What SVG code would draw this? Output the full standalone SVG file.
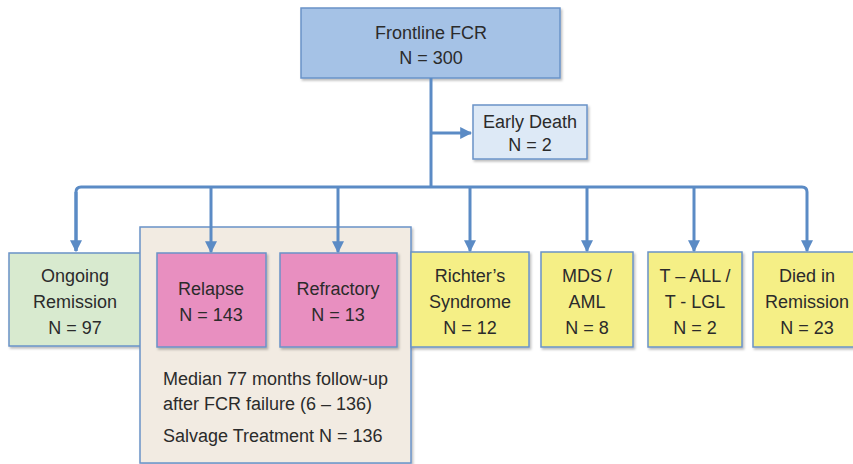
<svg xmlns="http://www.w3.org/2000/svg" width="853" height="464" viewBox="0 0 853 464">
<defs>
<style>
text{font-family:"Liberation Sans",Arial,sans-serif;fill:#2b2b2b;text-anchor:middle;font-size:18px}
.box{stroke:#6a93c8;stroke-width:1.5}
.conn{fill:none;stroke:#5b8bc5;stroke-width:3}
.blue{fill:#a5c2e6}
.lblue{fill:#dde9f6}
.green{fill:#d8eacf}
.pink{fill:#e88fc0}
.yellow{fill:#f5ef86}
.tan{fill:#f2ebe2}
.left{text-anchor:start}
</style>
<marker id="ah" viewBox="0 0 10 10" refX="9" refY="5" markerWidth="4" markerHeight="4" orient="auto" markerUnits="strokeWidth">
<path d="M0,0 L10,5 L0,10 z" fill="#5b8bc5"/>
</marker>
<filter id="sh" x="-10%" y="-10%" width="130%" height="130%">
<feDropShadow dx="1.5" dy="2" stdDeviation="1.2" flood-color="#000" flood-opacity="0.25"/>
</filter>
</defs>
<g id="frontline">
<rect class="box blue" x="301" y="8" width="259" height="70" filter="url(#sh)"/>
<text x="431" y="39" font-size="19">Frontline FCR</text>
<text x="431" y="64" font-size="19">N = 300</text>
</g>
<g id="early-death">
<rect class="box lblue" x="473" y="105" width="114" height="54" filter="url(#sh)"/>
<text x="530" y="128" font-size="17">Early Death</text>
<text x="530" y="151" font-size="17">N = 2</text>
</g>
<g id="ongoing">
<rect class="box green" x="9" y="253" width="135" height="93" filter="url(#sh)"/>
<text x="75" y="282">Ongoing</text>
<text x="75" y="308">Remission</text>
<text x="75" y="334">N = 97</text>
</g>
<g id="failure-group">
<rect class="box tan" x="140" y="227" width="271" height="236" filter="url(#sh)"/>
<text class="left" x="163" y="385" font-size="17">Median 77 months follow-up</text>
<text class="left" x="163" y="410" font-size="17">after FCR failure (6 – 136)</text>
<text class="left" x="163" y="442" font-size="17">Salvage Treatment N = 136</text>
</g>
<g id="relapse">
<rect class="box pink" x="157" y="253" width="109" height="94" filter="url(#sh)"/>
<text x="211" y="295">Relapse</text>
<text x="211" y="321">N = 143</text>
</g>
<g id="refractory">
<rect class="box pink" x="280" y="253" width="117" height="94" filter="url(#sh)"/>
<text x="338" y="295">Refractory</text>
<text x="338" y="321">N = 13</text>
</g>
<g id="richters">
<rect class="box yellow" x="411" y="252" width="118" height="95" filter="url(#sh)"/>
<text x="470" y="282">Richter’s</text>
<text x="470" y="308">Syndrome</text>
<text x="470" y="334">N = 12</text>
</g>
<g id="mds-aml">
<rect class="box yellow" x="541" y="252" width="92" height="95" filter="url(#sh)"/>
<text x="587" y="282">MDS /</text>
<text x="587" y="308">AML</text>
<text x="587" y="334">N = 8</text>
</g>
<g id="t-all">
<rect class="box yellow" x="648" y="252" width="94" height="95" filter="url(#sh)"/>
<text x="695" y="282">T – ALL /</text>
<text x="695" y="308">T - LGL</text>
<text x="695" y="334">N = 2</text>
</g>
<g id="died-remission">
<rect class="box yellow" x="753" y="252" width="110" height="95" filter="url(#sh)"/>
<text x="807" y="282">Died in</text>
<text x="807" y="308">Remission</text>
<text x="807" y="334">N = 23</text>
</g>
<g id="connectors">
<path class="conn" d="M431,78 V187"/>
<path class="conn" d="M431,133 H471" marker-end="url(#ah)"/>
<path class="conn" d="M76,251 V192 Q76,187 81,187 H802 Q807,187 807,192 V251" marker-end="url(#ah)"/>
<path class="conn" d="M76,192 V251" marker-end="url(#ah)"/>
<path class="conn" d="M211,187 V252" marker-end="url(#ah)"/>
<path class="conn" d="M338,187 V252" marker-end="url(#ah)"/>
<path class="conn" d="M470,187 V251" marker-end="url(#ah)"/>
<path class="conn" d="M587,187 V251" marker-end="url(#ah)"/>
<path class="conn" d="M694,187 V251" marker-end="url(#ah)"/>
</g>
</svg>
